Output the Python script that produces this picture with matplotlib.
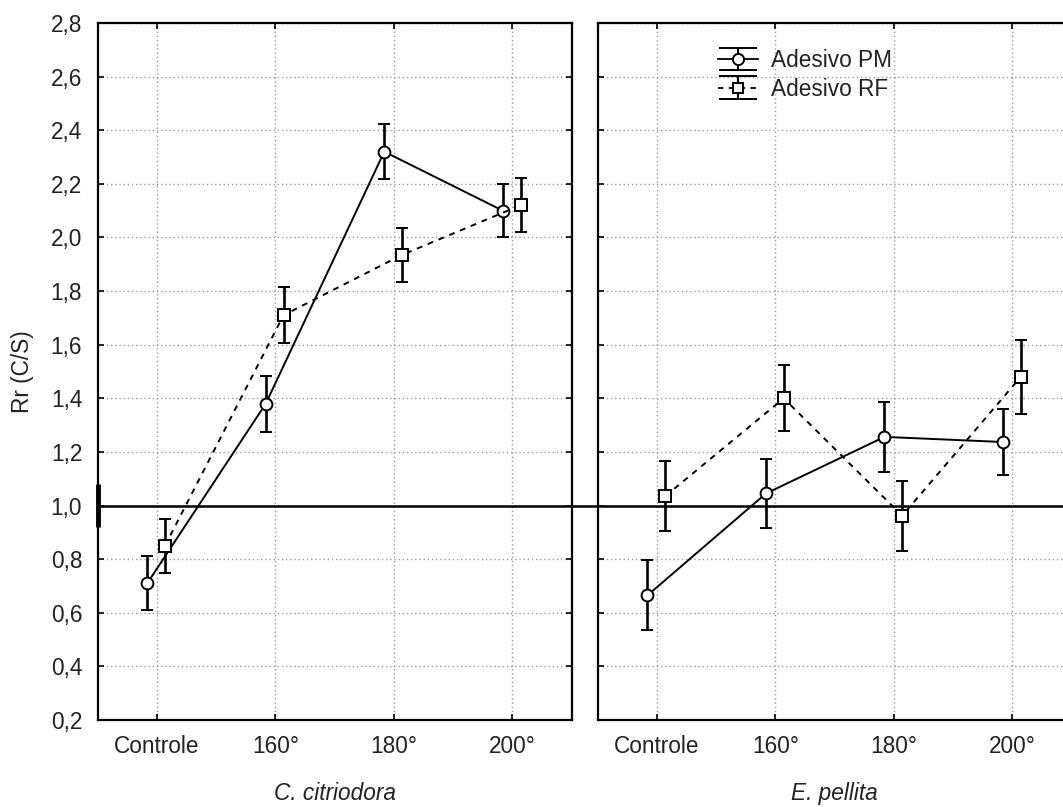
import matplotlib
matplotlib.use("Agg")
import matplotlib.pyplot as plt
import numpy as np

plt.rcParams['font.family'] = ['Liberation Sans', 'DejaVu Sans']

categories = ["Controle", "160°", "180°", "200°"]
panels = ["C. citriodora", "E. pellita"]

# C. citriodora
cc_pm = [0.71, 1.38, 2.32, 2.10]
cc_pm_err = [0.10, 0.104, 0.103, 0.10]
cc_rf = [0.85, 1.71, 1.935, 2.12]
cc_rf_err = [0.10, 0.104, 0.10, 0.10]

# E. pellita
ep_pm = [0.665, 1.045, 1.256, 1.237]
ep_pm_err = [0.13, 0.127, 0.13, 0.123]
ep_rf = [1.035, 1.40, 0.962, 1.48]
ep_rf_err = [0.13, 0.123, 0.13, 0.137]

series_names = ["Adesivo PM", "Adesivo RF"]
yticks = [0.2, 0.4, 0.6, 0.8, 1.0, 1.2, 1.4, 1.6, 1.8, 2.0, 2.2, 2.4, 2.6, 2.8]
ref_value = 1.0

W, H = 1063, 807
fig = plt.figure(figsize=(W / 100, H / 100), dpi=100)

ax_l = fig.add_axes([97.5 / W, 1 - 720 / H, 474 / W, (720 - 23) / H])
ax_r = fig.add_axes([597.7 / W, 1 - 720 / H, 474 / W, (720 - 23) / H])

data = [(ax_l, cc_pm, cc_pm_err, cc_rf, cc_rf_err),
        (ax_r, ep_pm, ep_pm_err, ep_rf, ep_rf_err)]

x = np.arange(len(categories))
fs = 16.3
for i, (ax, pm, pme, rf, rfe) in enumerate(data):
    ax.errorbar(x - 0.08, pm, yerr=pme, color='black', lw=1.4, elinewidth=1.9,
                capsize=4.5, capthick=1.9, marker='o', ms=8.5, mfc='white',
                mec='black', mew=1.4, ls='-', zorder=3)
    ax.errorbar(x + 0.07, rf, yerr=rfe, color='black', lw=1.4, elinewidth=1.9,
                capsize=4.5, capthick=1.9, marker='s', ms=8, mfc='white',
                mec='black', mew=1.4, ls=(0, (3, 3)), zorder=3)
    ax.set_xlim(-0.5, 3.5)
    ax.set_ylim(0.2, 2.8)
    ax.set_xticks(x)
    ax.set_xticklabels(categories, fontsize=fs, color='#222222')
    ax.set_yticks(yticks)
    if i == 0:
        ax.set_yticklabels([f"{v:.1f}".replace('.', ',') for v in yticks],
                           fontsize=fs, color='#222222')
        ax.set_ylabel("Rr (C/S)", fontsize=fs, color='#222222', labelpad=12)
    else:
        ax.set_yticklabels([])
    ax.set_xlabel(panels[i], fontsize=fs, style='italic', color='#222222',
                  labelpad=17)
    ax.tick_params(direction='in', length=4, width=1.2, top=True, right=True,
                   pad=11)
    ax.grid(True, ls=(0, (1, 2)), color='#9a9a9a', lw=1.0)
    for s in ax.spines.values():
        s.set_linewidth(1.6)
        s.set_color('black')
    ax.set_axisbelow(True)

# reference line at 1.0 spanning both panels
ax_l.plot([-0.5, 3.73], [ref_value, ref_value], color='black', lw=1.8,
          clip_on=False, zorder=2)
ax_r.axhline(ref_value, color='black', lw=1.8, zorder=2)
ax_l.plot([-0.5, -0.5], [ref_value - 0.08, ref_value + 0.08], color='black',
          lw=3.5, clip_on=False, zorder=4, solid_capstyle='butt')

# legend proxies with wide caps
h_pm = ax_r.errorbar([-10], [0], yerr=[0.1], color='black', lw=1.3,
                     elinewidth=1.5, capsize=14, capthick=1.5, marker='o',
                     ms=8, mfc='white', mec='black', mew=1.4, ls='-')
h_rf = ax_r.errorbar([-10], [0], yerr=[0.1], color='black', lw=1.3,
                     elinewidth=1.5, capsize=14, capthick=1.5, marker='s',
                     ms=7.5, mfc='white', mec='black', mew=1.4, ls=(0, (3, 3)))
ax_r.set_xlim(-0.5, 3.5)
leg = ax_r.legend([h_pm, h_rf], series_names, loc='upper left',
                  bbox_to_anchor=(120 / 474, 1 - 26 / 697), frameon=False,
                  fontsize=fs, handlelength=1.8, handletextpad=0.55,
                  labelspacing=0.25, borderaxespad=0, borderpad=0)
for t in leg.get_texts():
    t.set_color('#222222')

fig.savefig("out.png", dpi=100)
